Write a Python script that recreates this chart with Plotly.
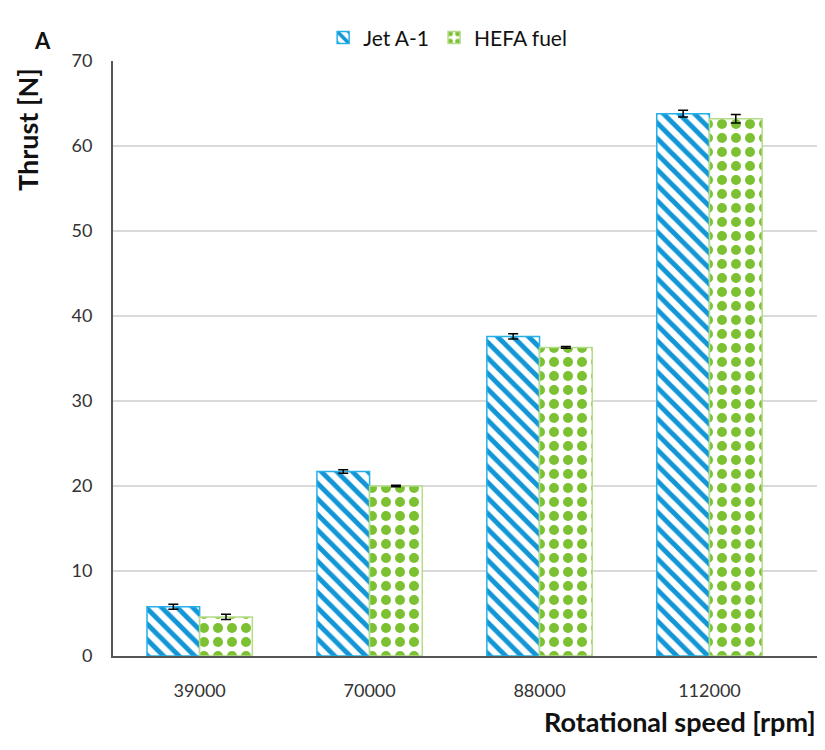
import plotly.graph_objects as go

categories = ["39000", "70000", "88000", "112000"]
jet_a1 = [5.8, 21.7, 37.6, 63.8]
jet_a1_err = [0.3, 0.2, 0.3, 0.4]
hefa = [4.6, 20.0, 36.3, 63.2]
hefa_err = [0.3, 0.1, 0.1, 0.5]
y_ticks = [0, 10, 20, 30, 40, 50, 60, 70]

BLUE = "#1296d6"
GREEN = "#7cc132"
FONT = "Lato"

fig = go.Figure()
fig.add_trace(go.Bar(
    x=categories, y=jet_a1, name="Jet A-1",
    marker=dict(color="white", line=dict(color="#25b0ea", width=1.5),
                pattern=dict(shape="\\", fgcolor=BLUE, bgcolor="white", size=11,
                             solidity=0.45, fgopacity=1)),
    error_y=dict(type="data", array=jet_a1_err, color="black", thickness=1.5, width=5),
))
fig.add_trace(go.Bar(
    x=categories, y=hefa, name="HEFA fuel",
    marker=dict(color="white", line=dict(color="#b5dc8a", width=1.5),
                pattern=dict(shape=".", fgcolor=GREEN, bgcolor="white", size=14,
                             solidity=0.4, fgopacity=1)),
    error_y=dict(type="data", array=hefa_err, color="black", thickness=1.5, width=5),
))

fig.update_layout(
    width=825, height=750,
    paper_bgcolor="white", plot_bgcolor="white",
    margin=dict(l=105, r=8, t=53, b=102, autoexpand=False),
    barmode="group", bargap=0.38, bargroupgap=0,
    font=dict(family=FONT, color="#333333"),
    showlegend=True,
    legend=dict(orientation="h", x=0.47, xanchor="center", y=1.039, yanchor="middle",
                font=dict(size=21, color="#111111", family=FONT),
                traceorder="normal", itemwidth=30),
    xaxis=dict(type="category", range=[-0.51, 3.68], showline=True, linecolor="#555555",
               linewidth=2, ticks="", tickfont=dict(size=18, color="#333333"),
               ticklabelstandoff=17, showgrid=False, zeroline=False),
    yaxis=dict(range=[0, 70], tickvals=y_ticks, showline=True, linecolor="#555555",
               linewidth=2, showgrid=True, gridcolor="#d9d9d9", gridwidth=1.5,
               ticks="", tickfont=dict(size=18, color="#333333"), ticklabelstandoff=15,
               zeroline=False),
    annotations=[
        dict(text="<b>Rotational speed [rpm]</b>", xref="paper", yref="paper",
             x=1.0, y=-0.11, xanchor="right", yanchor="middle", showarrow=False,
             font=dict(size=27, color="#111111", family=FONT), xshift=-7),
        dict(text="<b>Thrust [N]</b>", xref="paper", yref="paper",
             x=-0.12, y=0.885, xanchor="center", yanchor="middle", showarrow=False,
             textangle=-90, font=dict(size=27, color="#111111", family=FONT)),
        dict(text="<b>A</b>", xref="paper", yref="paper", x=-0.0997, y=1.035,
             xanchor="center", yanchor="middle", showarrow=False,
             font=dict(size=22, color="#111111", family=FONT)),
    ],
)

fig.write_html("out.html")
